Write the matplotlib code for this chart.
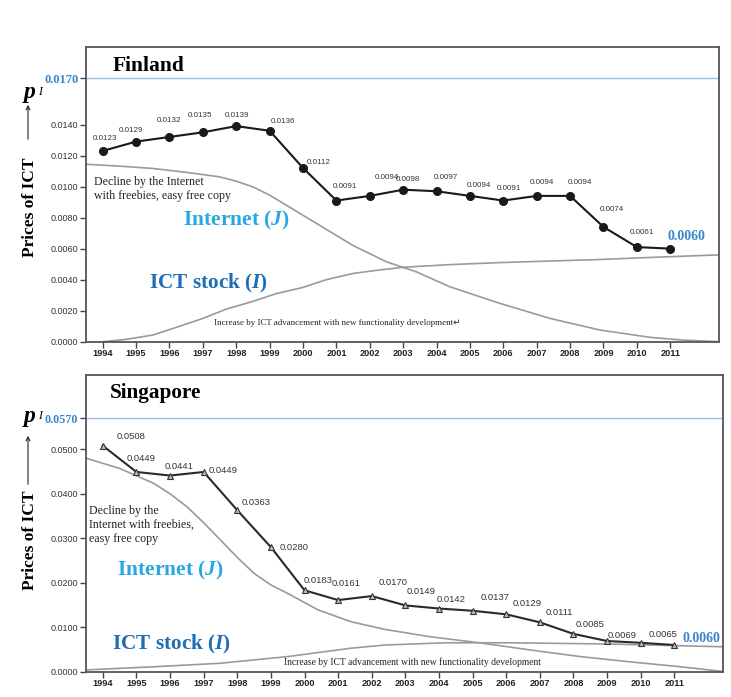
'''Prices of ICT in Finland and Singapore, 1994-2011, with Internet / ICT stock curves'''

import matplotlib
matplotlib.use("Agg")
import matplotlib.pyplot as plt

plt.rcParams['mathtext.fontset'] = 'custom'
plt.rcParams['mathtext.rm'] = 'Liberation Serif:bold'
plt.rcParams['mathtext.it'] = 'Liberation Serif:italic:bold'

W, H = 731, 697

years = list(range(1994, 2012))

# observed prices
finland_prices = [0.0123, 0.0129, 0.0132, 0.0135, 0.0139, 0.0136, 0.0112, 0.0091, 0.0094,
                  0.0098, 0.0097, 0.0094, 0.0091, 0.0094, 0.0094, 0.0074, 0.0061, 0.0060]
singapore_prices = [0.0508, 0.0449, 0.0441, 0.0449, 0.0363, 0.0280, 0.0183, 0.0161, 0.0170,
                    0.0149, 0.0142, 0.0137, 0.0129, 0.0111, 0.0085, 0.0069, 0.0065, 0.0060]

# hand-drawn trend curves (year, value)
fin_internet_x = [1993.5, 1994.5, 1995.5, 1996.5, 1997.5, 1998.0, 1998.5, 1999.0, 1999.5, 2000.0,
                  2000.5, 2001.5, 2002.5, 2003.4, 2004.4, 2005.9, 2007.4, 2008.9, 2010.4, 2011.4, 2012.5]
fin_internet_y = [0.01144, 0.01132, 0.01117, 0.01092, 0.01063, 0.01035, 0.00998, 0.00945, 0.0088, 0.00815,
                  0.0075, 0.0062, 0.00515, 0.0045, 0.00354, 0.00247, 0.0015, 0.00075, 0.00028, 0.0001, 0.0]
fin_stock_x = [1994.0, 1994.7, 1995.5, 1996.2, 1997.0, 1997.7, 1998.5, 1999.2, 2000.0, 2000.7,
               2001.5, 2002.2, 2003.0, 2004.4, 2005.9, 2007.4, 2008.9, 2010.6, 2012.5]
fin_stock_y = [0.0, 0.00015, 0.00043, 0.00092, 0.0015, 0.0021, 0.0026, 0.0031, 0.0035, 0.0040,
               0.0044, 0.0046, 0.0048, 0.00497, 0.0051, 0.0052, 0.0053, 0.00545, 0.0056]

sgp_internet_x = [1993.5, 1994.5, 1995.5, 1996.0, 1996.5, 1997.0, 1997.5, 1998.0, 1998.5, 1999.0, 1999.5,
                  2000.4, 2001.4, 2002.4, 2003.7, 2005.2, 2006.7, 2008.2, 2009.7, 2011.2, 2012.5]
sgp_internet_y = [0.0480, 0.0457, 0.0424, 0.0400, 0.0371, 0.0335, 0.0296, 0.0257, 0.0221, 0.0195, 0.0176,
                  0.0139, 0.0112, 0.0095, 0.0079, 0.0065, 0.0049, 0.0034, 0.0022, 0.0011, 0.0]
sgp_stock_x = [1993.5, 1995.5, 1997.5, 1999.5, 2001.4, 2002.4, 2004.2, 2006.2, 2009.2, 2012.5]
sgp_stock_y = [0.0004, 0.0011, 0.0019, 0.0034, 0.0053, 0.0060, 0.0065, 0.0065, 0.0062, 0.0056]

fin_yticks = [0.0, 0.002, 0.004, 0.006, 0.008, 0.010, 0.012, 0.014, 0.017]
sgp_yticks = [0.0, 0.01, 0.02, 0.03, 0.04, 0.05, 0.057]

# label offsets in pixels (dx, dy) relative to each point
fin_label_off = [(2, 12), (-5, 11), (0, 16), (-3, 17), (1, 11), (13, 9), (16, 5), (9, 14), (17, 18),
                 (5, 10), (9, 14), (9, 10), (6, 12), (5, 13), (10, 13), (8, 17), (5, 15), (16, 12)]
sgp_label_off = [(28, 9), (5, 13), (9, 9), (19, 1), (19, 8), (23, 0), (14, 10), (8, 17), (21, 14),
                 (16, 14), (12, 9), (23, 13), (21, 11), (19, 10), (17, 9), (15, 6), (22, 8), (27, 7)]

SANS = 'Liberation Sans'
SERIF = 'Liberation Serif'
BLUE_LINE = '#9cc0ea'
BLUE_TXT = '#3a86cc'
CURVE = '#9a9a9a'


def px(x, y):
    return x / W, 1 - y / H


def setup_axes(ax, xlim, ylim, yticks, top_fmt):
    ax.set_xlim(*xlim)
    ax.set_ylim(*ylim)
    for s in ax.spines.values():
        s.set_color('#555555')
        s.set_linewidth(1.3)
    ax.set_xticks(years)
    ax.set_xticklabels([str(y) for y in years], fontfamily=SANS, fontweight='bold', fontsize=6.6, color='#222222')
    ax.set_yticks(yticks)
    ax.set_yticklabels(['%.4f' % v for v in yticks], fontfamily=SANS, fontsize=6.5, color='#333333')
    ax.tick_params(direction='out', length=4, width=1, color='#444444', pad=1.5)
    lab = ax.get_yticklabels()[-1]
    lab.set_color(BLUE_TXT)
    lab.set_fontfamily(SERIF)
    lab.set_fontweight('bold')
    lab.set_fontsize(top_fmt)
    ax.axhline(yticks[-1], color=BLUE_LINE, lw=1)


def add_labels(ax, values, offsets, size):
    for i, (x, v) in enumerate(zip(years, values)):
        dx, dy = offsets[i]
        if i == len(values) - 1:
            ax.annotate('%.4f' % v, (x, v), xytext=(dx, dy), textcoords='offset pixels', ha='center', va='center',
                        fontfamily=SERIF, fontweight='bold', fontsize=10, color=BLUE_TXT)
        else:
            ax.annotate('%.4f' % v, (x, v), xytext=(dx, dy), textcoords='offset pixels', ha='center', va='center',
                        fontfamily=SANS, fontsize=size, color='#333333')


fig = plt.figure(figsize=(W / 100, H / 100), dpi=100)

# Finland panel
ax0 = fig.add_axes([86 / W, 1 - 341.7 / H, (719 - 86) / W, (341.7 - 47) / H])
setup_axes(ax0, (1993.5, 2012.46), (0, 0.019), fin_yticks, 9)
ax0.plot(fin_internet_x, fin_internet_y, color=CURVE, lw=1.2)
ax0.plot(fin_stock_x, fin_stock_y, color=CURVE, lw=1.2)
ax0.plot(years, finland_prices, color='#1a1a1a', lw=1.5, marker='o', markersize=5.5)
add_labels(ax0, finland_prices, fin_label_off, 5.8)

# Singapore panel
ax1 = fig.add_axes([86 / W, 1 - 671.7 / H, (722.7 - 86) / W, (671.7 - 375) / H])
setup_axes(ax1, (1993.5, 2012.44), (0, 0.0667), sgp_yticks, 8.7)
ax1.plot(sgp_internet_x, sgp_internet_y, color=CURVE, lw=1.2)
ax1.plot(sgp_stock_x, sgp_stock_y, color=CURVE, lw=1.2)
ax1.plot(years, singapore_prices, color='#2a2a2a', lw=1.5, marker='^', markersize=4,
         markerfacecolor='#bbbbbb', markeredgecolor='#333333', markeredgewidth=0.8)
add_labels(ax1, singapore_prices, sgp_label_off, 6.8)

# annotations, panel titles and axis captions
fig.text(*px(113, 66), 'Finland', fontfamily=SERIF, fontweight='bold', fontsize=15.5, va='center')
fig.text(*px(110, 393), 'Singapore', fontfamily=SERIF, fontweight='bold', fontsize=15.3, va='center')

fig.text(*px(94, 189), 'Decline by the Internet\nwith freebies, easy free copy', fontfamily=SERIF,
         fontsize=8.6, va='center', color='#222222', linespacing=1.25)
fig.text(*px(89, 525), 'Decline by the\nInternet with freebies,\neasy free copy', fontfamily=SERIF,
         fontsize=8.6, va='center', color='#222222', linespacing=1.25)

fig.text(*px(236, 220), 'Internet ($J$)', fontfamily=SERIF, fontweight='bold', fontsize=15.5,
         ha='center', va='center', color='#2aa6e0')
fig.text(*px(170.5, 570), 'Internet ($J$)', fontfamily=SERIF, fontweight='bold', fontsize=15.5,
         ha='center', va='center', color='#2aa6e0')
fig.text(*px(208.5, 283), 'ICT stock ($I$)', fontfamily=SERIF, fontweight='bold', fontsize=15.3,
         ha='center', va='center', color='#1f6db5')
fig.text(*px(172, 644), 'ICT stock ($I$)', fontfamily=SERIF, fontweight='bold', fontsize=15.3,
         ha='center', va='center', color='#1f6db5')

fig.text(*px(214, 323), 'Increase by ICT advancement with new functionality development\u21b5',
         family=[SERIF, 'DejaVu Sans'], fontsize=6.4, va='center', color='#222222')
fig.text(*px(284, 662), 'Increase by ICT advancement with new functionality development',
         fontfamily=SERIF, fontsize=6.9, va='center', color='#222222')

for yc, y_arrow, p_y in [(207, (142, 102), 93), (540, (487, 433), 417)]:
    fig.text(*px(30, yc), 'Prices of ICT', fontfamily=SERIF, fontweight='bold', fontsize=12.5,
             rotation=90, ha='center', va='center')
    fig.add_artist(matplotlib.patches.FancyArrowPatch(px(28, y_arrow[0]), px(28, y_arrow[1]),
                   transform=fig.transFigure, arrowstyle='->', mutation_scale=7, lw=0.8, color='#222222'))
    fig.text(*px(29, p_y), '$p$', fontsize=17, ha='center', va='center')
    fig.text(*px(39.5, p_y - 1), 'I', fontfamily=SERIF, fontstyle='italic', fontsize=8.5, ha='center', va='center')

fig.savefig('out.png', dpi=100)
